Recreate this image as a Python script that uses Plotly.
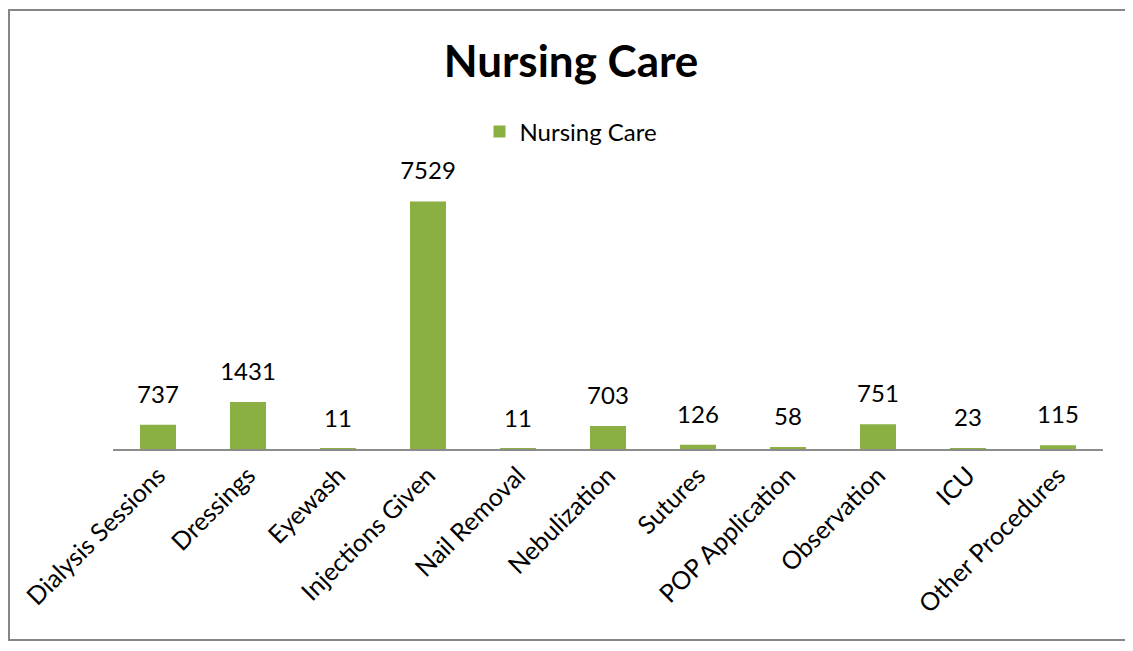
import plotly.graph_objects as go

categories = ["Dialysis Sessions", "Dressings", "Eyewash", "Injections Given", "Nail Removal",
              "Nebulization", "Sutures", "POP Application", "Observation", "ICU", "Other Procedures"]
values = [737, 1431, 11, 7529, 11, 703, 126, 58, 751, 23, 115]
series_name = "Nursing Care"
title_text = "Nursing Care"

FONT = "Lato"
L, R, T, B = 105, 38, 178, 210
W, H = 1133, 651
PH = H - T - B
PW = W - L - R

fig = go.Figure()
fig.add_trace(go.Bar(
    x=categories, y=values, name=series_name,
    marker=dict(color="#8AB043", line=dict(width=0)),
    showlegend=True,
))
fig.add_trace(go.Scatter(
    x=categories, y=values, mode="markers+text",
    marker=dict(size=24, opacity=0),
    text=[str(v) for v in values], textposition="top center",
    textfont=dict(size=24, color="#000000", family=FONT),
    cliponaxis=False, showlegend=False, hoverinfo="skip",
))

fig.update_layout(
    width=W, height=H,
    paper_bgcolor="white", plot_bgcolor="white",
    margin=dict(l=L, r=R, t=T, b=B),
    bargap=0.6,
    title=dict(text="<b>" + title_text + "</b>", x=563 / W, xanchor="center",
               y=1 - 54 / H, yanchor="middle", yref="container",
               font=dict(size=44, family=FONT, color="#000000")),
    legend=dict(x=(563 - L) / PW, y=(H - B - 124) / PH, xanchor="center", yanchor="middle",
                orientation="h", font=dict(size=24, family=FONT, color="#000000"),
                bgcolor="rgba(0,0,0,0)", itemsizing="constant"),
    xaxis=dict(showline=True, linecolor="#8c8c8c", linewidth=2, ticks="",
               range=[-0.5, len(categories) - 0.5],
               tickangle=-45, tickfont=dict(size=25, family=FONT, color="#000000"),
               showgrid=False, zeroline=False),
    yaxis=dict(range=[0, 8000], visible=False, showgrid=False, zeroline=False),
    shapes=[dict(type="rect", xref="paper", yref="paper",
                 x0=(1 - L) / PW, x1=(1122 - L) / PW,
                 y0=(H - B - 632) / PH, y1=(H - B - 2) / PH,
                 line=dict(color="#868686", width=2), fillcolor="rgba(0,0,0,0)", layer="below")],
)

fig.write_html("out.html")
